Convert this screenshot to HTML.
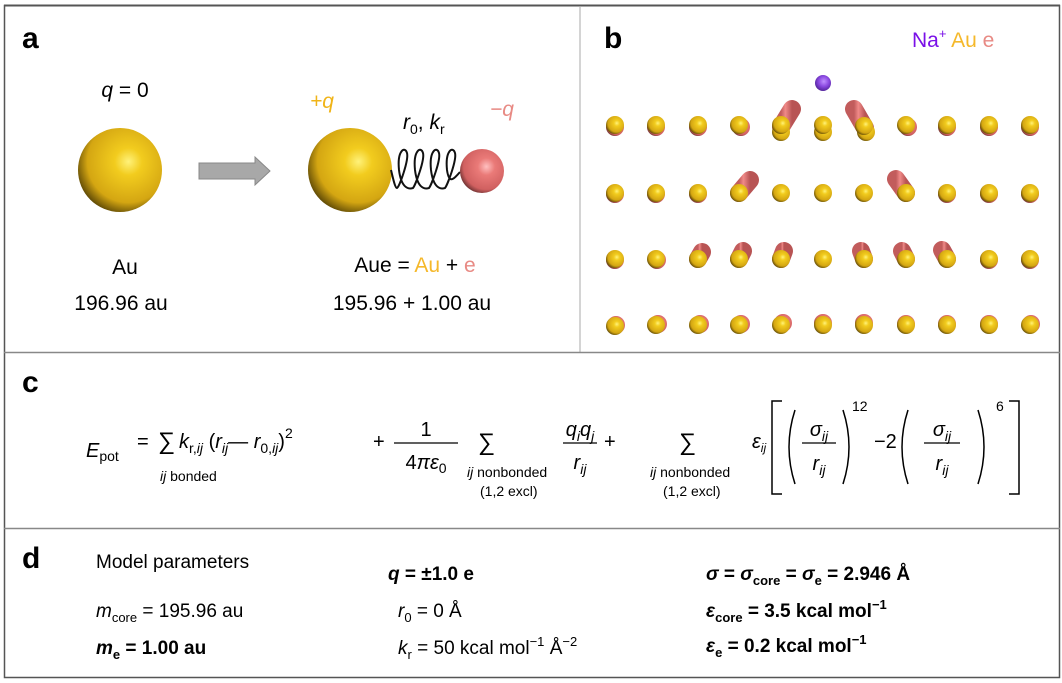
<!DOCTYPE html>
<html><head><meta charset="utf-8"><style>
html,body{margin:0;padding:0;background:#fff;}
svg{display:block;font-family:"Liberation Sans",sans-serif;}
.it{font-style:italic}
</style></head><body>
<svg width="1062" height="683" viewBox="0 0 1062 683" xmlns="http://www.w3.org/2000/svg">
<defs>
<radialGradient id="gold" cx="0.6" cy="0.4" r="0.65">
<stop offset="0" stop-color="#fff27a"/><stop offset="0.25" stop-color="#f2cc1e"/><stop offset="0.75" stop-color="#d4a612"/><stop offset="1" stop-color="#5a4606"/></radialGradient>
<radialGradient id="pink" cx="0.6" cy="0.4" r="0.65">
<stop offset="0" stop-color="#ffc0c0"/><stop offset="0.3" stop-color="#ea7a78"/><stop offset="0.8" stop-color="#d06060"/><stop offset="1" stop-color="#6a3030"/></radialGradient>
<radialGradient id="purp" cx="0.55" cy="0.4" r="0.65">
<stop offset="0" stop-color="#c090ff"/><stop offset="0.5" stop-color="#8a48e0"/><stop offset="1" stop-color="#4a2090"/></radialGradient>
<linearGradient id="pill" x1="0" x2="1"><stop offset="0" stop-color="#c25c5c"/><stop offset="0.4" stop-color="#f08a88"/><stop offset="1" stop-color="#b85454"/></linearGradient>
</defs>
<rect x="4.5" y="5.5" width="1055" height="672" fill="none" stroke="#555" stroke-width="1.5"/>
<line x1="4" y1="5.5" x2="1060" y2="5.5" stroke="#555" stroke-width="2"/>
<line x1="580" y1="6" x2="580" y2="352" stroke="#aaa" stroke-width="1"/>
<line x1="4" y1="352.5" x2="1060" y2="352.5" stroke="#888" stroke-width="1.5"/>
<line x1="4" y1="528.5" x2="1060" y2="528.5" stroke="#888" stroke-width="1.5"/>

<!-- panel a -->
<text x="22" y="48" font-size="30" font-weight="bold">a</text>
<text x="125" y="97" font-size="21" text-anchor="middle"><tspan class="it">q</tspan> = 0</text>
<circle cx="120" cy="170" r="42" fill="url(#gold)"/>
<polygon points="199,163 255,163 255,157 270,171 255,185 255,179 199,179" fill="#a8a8a8" stroke="#888" stroke-width="1"/>
<circle cx="350" cy="170" r="42" fill="url(#gold)"/>
<path d="M391,170 C393,178 395,188 397,188
C399,188 409,160 407,153 C405,146 397,150 399,170 C401,186 407,190 413,188
C415,186 425,160 423,153 C421,146 413,150 415,170 C417,186 423,190 429,188
C431,186 441,160 439,153 C437,146 429,150 431,170 C433,186 439,190 445,188
C447,186 457,160 455,153 C453,146 445,150 447,170 C449,184 453,180 460,172" fill="none" stroke="#111" stroke-width="2"/>
<circle cx="482" cy="171" r="22" fill="url(#pink)"/>
<text x="310" y="108" font-size="21" fill="#f0b418" class="it">+q</text>
<text x="403" y="129" font-size="21" class="it">r<tspan font-size="14" dy="5" font-style="normal">0</tspan><tspan dy="-5" font-style="normal">, </tspan>k<tspan font-size="14" dy="5" font-style="normal">r</tspan></text>
<text x="490" y="116" font-size="21" fill="#e88a84" class="it">−q</text>
<text x="125" y="274" font-size="21" text-anchor="middle">Au</text>
<text x="121" y="310" font-size="21" text-anchor="middle">196.96 au</text>
<text x="415" y="272" font-size="21" text-anchor="middle">Aue = <tspan fill="#f5b82a">Au</tspan> + <tspan fill="#e88a84">e</tspan></text>
<text x="412" y="310" font-size="21" text-anchor="middle">195.96 + 1.00 au</text>

<!-- panel b -->
<text x="604" y="48" font-size="30" font-weight="bold">b</text>
<text x="912" y="47" font-size="21"><tspan fill="#7a10e8">Na<tspan font-size="13" dy="-9">+</tspan></tspan><tspan dy="9" fill="#f5b82a"> Au</tspan><tspan fill="#e88a84"> e</tspan></text>
<circle cx="823" cy="83" r="8" fill="url(#purp)"/>
<g fill="url(#pink)"><circle cx="615" cy="127" r="9"/><circle cx="656" cy="127" r="9"/><circle cx="698" cy="127" r="9"/><circle cx="741" cy="127" r="9"/><circle cx="908" cy="127" r="9"/><circle cx="947" cy="127" r="9"/><circle cx="989" cy="127" r="9"/><circle cx="1030" cy="127" r="9"/>
<circle cx="615" cy="194" r="9"/><circle cx="656" cy="194" r="9"/><circle cx="698" cy="194" r="9"/><circle cx="947" cy="194" r="9"/><circle cx="989" cy="194" r="9"/><circle cx="1030" cy="194" r="9"/>
<circle cx="615" cy="260" r="9"/><circle cx="657" cy="260" r="9"/><circle cx="989" cy="260" r="9"/><circle cx="1030" cy="260" r="9"/>
<circle cx="616" cy="325" r="9"/><circle cx="658" cy="324" r="9"/><circle cx="700" cy="324" r="9"/><circle cx="741" cy="324" r="9"/><circle cx="783" cy="323" r="9"/><circle cx="823" cy="323" r="9"/><circle cx="864" cy="323" r="9"/><circle cx="906" cy="324" r="9"/><circle cx="947" cy="324" r="9"/><circle cx="989" cy="324" r="9"/><circle cx="1031" cy="324" r="9"/>
</g>
<g stroke="url(#pill)" stroke-width="18" stroke-linecap="round" fill="none">
<line x1="792" y1="109" x2="781" y2="127"/>
<line x1="823" y1="108" x2="823" y2="127"/>
<line x1="854" y1="109" x2="865" y2="128"/>
<line x1="750" y1="180" x2="739" y2="193"/>
<line x1="781" y1="180" x2="781" y2="193"/>
<line x1="823" y1="180" x2="823" y2="193"/>
<line x1="864" y1="181" x2="864" y2="193"/>
<line x1="896" y1="179" x2="906" y2="193"/>
<line x1="702" y1="252" x2="698" y2="259"/>
<line x1="743" y1="251" x2="739" y2="259"/>
<line x1="784" y1="251" x2="781" y2="259"/>
<line x1="823" y1="248" x2="823" y2="259"/>
<line x1="861" y1="251" x2="864" y2="259"/>
<line x1="902" y1="251" x2="906" y2="259"/>
<line x1="942" y1="250" x2="947" y2="259"/>
<line x1="1099" y1="250" x2="1099" y2="250"/>
</g>
<g fill="url(#gold)">
<circle cx="781" cy="132" r="9"/><circle cx="823" cy="132" r="9"/><circle cx="866" cy="132" r="9"/>
<circle cx="615" cy="125" r="9"/><circle cx="656" cy="125" r="9"/><circle cx="698" cy="125" r="9"/><circle cx="739" cy="125" r="9"/><circle cx="781" cy="125" r="9"/><circle cx="823" cy="125" r="9"/><circle cx="864" cy="126" r="9"/><circle cx="906" cy="125" r="9"/><circle cx="947" cy="125" r="9"/><circle cx="989" cy="125" r="9"/><circle cx="1030" cy="125" r="9"/>
<circle cx="615" cy="193" r="9"/><circle cx="656" cy="193" r="9"/><circle cx="698" cy="193" r="9"/><circle cx="739" cy="193" r="9"/><circle cx="781" cy="193" r="9"/><circle cx="823" cy="193" r="9"/><circle cx="864" cy="193" r="9"/><circle cx="906" cy="193" r="9"/><circle cx="947" cy="193" r="9"/><circle cx="989" cy="193" r="9"/><circle cx="1030" cy="193" r="9"/>
<circle cx="615" cy="259" r="9"/><circle cx="656" cy="259" r="9"/><circle cx="698" cy="259" r="9"/><circle cx="739" cy="259" r="9"/><circle cx="781" cy="259" r="9"/><circle cx="823" cy="259" r="9"/><circle cx="864" cy="259" r="9"/><circle cx="906" cy="259" r="9"/><circle cx="947" cy="259" r="9"/><circle cx="989" cy="259" r="9"/><circle cx="1030" cy="259" r="9"/>
<circle cx="615" cy="326" r="9"/><circle cx="656" cy="325" r="9"/><circle cx="698" cy="325" r="9"/><circle cx="739" cy="325" r="9"/><circle cx="781" cy="325" r="9"/><circle cx="823" cy="325" r="9"/><circle cx="864" cy="325" r="9"/><circle cx="906" cy="325" r="9"/><circle cx="947" cy="325" r="9"/><circle cx="989" cy="325" r="9"/><circle cx="1030" cy="325" r="9"/>
</g>

<!-- panel c -->
<text x="22" y="392" font-size="30" font-weight="bold">c</text>
<g font-size="20">
<text x="86" y="457" class="it">E<tspan font-size="14" dy="4" font-style="normal">pot</tspan></text>
<text x="137" y="448">=</text>
<text x="158" y="449" font-size="24">∑</text>
<text x="179" y="448"><tspan class="it">k</tspan><tspan font-size="14" dy="5">r,</tspan><tspan font-size="14" class="it">ij</tspan><tspan dy="-5"> (</tspan><tspan class="it">r</tspan><tspan font-size="14" dy="5" class="it">ij</tspan><tspan dy="-5">— </tspan><tspan class="it">r</tspan><tspan font-size="14" dy="5">0,</tspan><tspan font-size="14" class="it">ij</tspan><tspan dy="-5">)</tspan><tspan font-size="14" dy="-10">2</tspan></text>
<text x="160" y="481" font-size="14"><tspan class="it">ij</tspan> bonded</text>
<text x="373" y="448">+</text>
<text x="426" y="436" text-anchor="middle">1</text>
<line x1="394" y1="443" x2="458" y2="443" stroke="#000" stroke-width="1.3"/>
<text x="426" y="469" text-anchor="middle">4<tspan class="it">π</tspan><tspan class="it">ε</tspan><tspan font-size="14" dy="4">0</tspan></text>
<text x="478" y="450" font-size="24">∑</text>
<text x="467" y="477" font-size="14"><tspan class="it">ij</tspan> nonbonded</text>
<text x="480" y="496" font-size="14">(1,2 excl)</text>
<text x="580" y="436" text-anchor="middle" class="it">q<tspan font-size="14" dy="5">i</tspan><tspan dy="-5">q</tspan><tspan font-size="14" dy="5">j</tspan></text>
<line x1="563" y1="443" x2="597" y2="443" stroke="#000" stroke-width="1.3"/>
<text x="580" y="469" text-anchor="middle" class="it">r<tspan font-size="14" dy="5">ij</tspan></text>
<text x="604" y="448">+</text>
<text x="679" y="450" font-size="24">∑</text>
<text x="650" y="477" font-size="14"><tspan class="it">ij</tspan> nonbonded</text>
<text x="663" y="496" font-size="14">(1,2 excl)</text>
<text x="752" y="448" class="it">ε<tspan font-size="12" dy="4">ij</tspan></text>
<path d="M782,401 H772 V494 H782" fill="none" stroke="#000" stroke-width="1.5"/>
<path d="M1009,401 H1019 V494 H1009" fill="none" stroke="#000" stroke-width="1.5"/>
<path d="M795,410 Q783,447 795,484" fill="none" stroke="#000" stroke-width="1.5"/>
<path d="M843,410 Q855,447 843,484" fill="none" stroke="#000" stroke-width="1.5"/>
<text x="819" y="436" text-anchor="middle" class="it">σ<tspan font-size="14" dy="5">ij</tspan></text>
<line x1="802" y1="443" x2="836" y2="443" stroke="#000" stroke-width="1.3"/>
<text x="819" y="470" text-anchor="middle" class="it">r<tspan font-size="14" dy="5">ij</tspan></text>
<text x="852" y="411" font-size="14">12</text>
<text x="874" y="448">−2</text>
<path d="M908,410 Q896,447 908,484" fill="none" stroke="#000" stroke-width="1.5"/>
<path d="M978,410 Q990,447 978,484" fill="none" stroke="#000" stroke-width="1.5"/>
<text x="942" y="436" text-anchor="middle" class="it">σ<tspan font-size="14" dy="5">ij</tspan></text>
<line x1="924" y1="443" x2="960" y2="443" stroke="#000" stroke-width="1.3"/>
<text x="942" y="470" text-anchor="middle" class="it">r<tspan font-size="14" dy="5">ij</tspan></text>
<text x="996" y="411" font-size="14">6</text>
</g>

<!-- panel d -->
<text x="22" y="568" font-size="30" font-weight="bold">d</text>
<g font-size="19">
<text x="96" y="568">Model parameters</text>
<text x="96" y="617"><tspan class="it">m</tspan><tspan font-size="13" dy="5">core</tspan><tspan dy="-5"> = 195.96 au</tspan></text>
<text x="96" y="654" font-weight="bold"><tspan class="it">m</tspan><tspan font-size="13" dy="5">e</tspan><tspan dy="-5"> = 1.00 au</tspan></text>
<text x="388" y="580" font-weight="bold"><tspan class="it">q</tspan> = ±1.0 e</text>
<text x="398" y="617"><tspan class="it">r</tspan><tspan font-size="13" dy="5">0</tspan><tspan dy="-5"> = 0 Å</tspan></text>
<text x="398" y="654"><tspan class="it">k</tspan><tspan font-size="13" dy="5">r</tspan><tspan dy="-5"> = 50 kcal mol</tspan><tspan font-size="13" dy="-8">−1</tspan><tspan dy="8"> Å</tspan><tspan font-size="13" dy="-8">−2</tspan></text>
<text x="706" y="580" font-weight="bold"><tspan class="it">σ</tspan> = <tspan class="it">σ</tspan><tspan font-size="13" dy="5">core</tspan><tspan dy="-5"> = </tspan><tspan class="it">σ</tspan><tspan font-size="13" dy="5">e</tspan><tspan dy="-5"> = 2.946 Å</tspan></text>
<text x="706" y="617" font-weight="bold"><tspan class="it">ε</tspan><tspan font-size="13" dy="5">core</tspan><tspan dy="-5"> = 3.5 kcal mol</tspan><tspan font-size="13" dy="-8">−1</tspan></text>
<text x="706" y="652" font-weight="bold"><tspan class="it">ε</tspan><tspan font-size="13" dy="5">e</tspan><tspan dy="-5"> = 0.2 kcal mol</tspan><tspan font-size="13" dy="-8">−1</tspan></text>
</g>
</svg>
</body></html>
